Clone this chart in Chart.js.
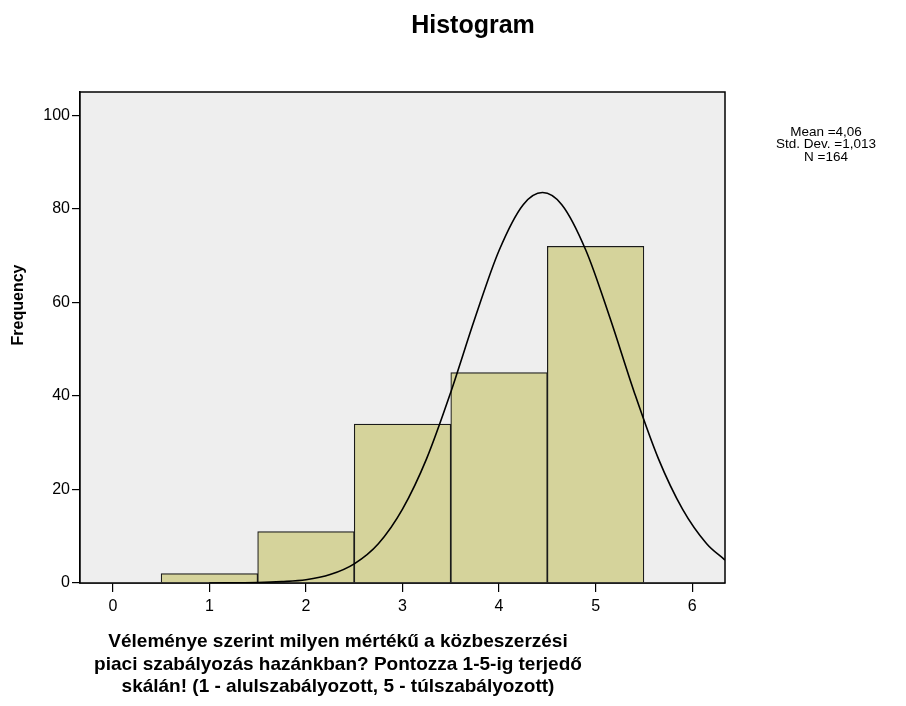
<!DOCTYPE html>
<html><head><meta charset="utf-8">
<script src="https://cdn.jsdelivr.net/npm/chart.js@4.4.1/dist/chart.umd.min.js"></script>
<style>html,body{margin:0;padding:0;background:#fff}#wrap{width:906px;height:706px}</style>
</head><body><div id="wrap"><canvas id="c" width="906" height="706"></canvas></div>
<script>
// ---- data ----
const binCenters = [1, 2, 3, 4, 5];
const frequencies = [2, 11, 34, 45, 72];
const curveX = [1.0, 1.5, 1.75, 2.0, 2.25, 2.5, 2.75, 3.0, 3.25, 3.5, 3.75, 4.0, 4.25, 4.45, 4.65, 4.9, 5.15, 5.4, 5.65, 5.9, 6.15, 6.34];
const curveY = [0.0, 0.1, 0.3, 0.7, 1.8, 4.1, 8.4, 15.8, 26.6, 40.8, 56.6, 71.1, 80.9, 83.5, 80.9, 71.1, 56.6, 40.8, 26.6, 15.8, 8.4, 4.9];
const xTickValues = [0, 1, 2, 3, 4, 5, 6];
const yTickValues = [0, 20, 40, 60, 80, 100];
const chartTitle = 'Histogram';
const xAxisTitle = ['Véleménye szerint milyen mértékű a közbeszerzési', 'piaci szabályozás hazánkban? Pontozza 1-5-ig terjedő', 'skálán! (1 - alulszabályozott, 5 - túlszabályozott)'];
const yAxisTitle = 'Frequency';
const statsLines = ['Mean =4,06', 'Std. Dev. =1,013', 'N =164'];

const FONT = '"Liberation Sans", Arial, sans-serif';

const barData = binCenters.map((x, i) => ({x: x, y: frequencies[i]}));
const curveData = curveX.map((x, i) => ({x: x, y: curveY[i]}));

const decor = {
  id: 'decor',
  beforeDatasetsDraw(chart) {
    const {ctx, chartArea: a} = chart;
    ctx.save();
    ctx.fillStyle = '#eeeeee';
    ctx.fillRect(a.left, a.top, a.right - a.left, a.bottom - a.top);
    ctx.restore();
  },
  afterDraw(chart) {
    const {ctx, chartArea: a} = chart;
    ctx.save();
    ctx.strokeStyle = '#000';
    ctx.lineWidth = 1.5;
    ctx.strokeRect(a.left, a.top, a.right - a.left, a.bottom - a.top);
    ctx.fillStyle = '#000';
    ctx.textBaseline = 'middle';
    ctx.textAlign = 'center';
    ctx.font = 'bold 25px ' + FONT;
    ctx.fillText(chartTitle, 473, 26);
    ctx.font = 'bold 19px ' + FONT;
    xAxisTitle.forEach((t, i) => ctx.fillText(t, 338, 642 + i * 22.5));
    ctx.save();
    ctx.translate(19, 305);
    ctx.rotate(-Math.PI / 2);
    ctx.font = 'bold 16px ' + FONT;
    ctx.fillText(yAxisTitle, 0, 0);
    ctx.restore();
    ctx.font = '13.5px ' + FONT;
    statsLines.forEach((t, i) => ctx.fillText(t, 826, 132 + i * 12.5));
    ctx.restore();
  }
};

new Chart(document.getElementById('c'), {
  type: 'bar',
  data: {
    datasets: [
      {
        type: 'line', data: curveData, borderColor: '#000', borderWidth: 1.6,
        pointRadius: 0, fill: false, cubicInterpolationMode: 'monotone', order: 0
      },
      {
        type: 'bar', data: barData, backgroundColor: '#d5d39b', borderColor: '#1a1a1a',
        borderWidth: 1.2, barPercentage: 1, categoryPercentage: 1, order: 1
      }
    ]
  },
  options: {
    responsive: false, devicePixelRatio: 1, animation: false,
    layout: {padding: {top: 92, right: 181, left: 0, bottom: 0}},
    plugins: {legend: {display: false}, tooltip: {enabled: false}, title: {display: false}},
    scales: {
      x: {
        type: 'linear', min: -0.34, max: 6.34, offset: false,
        afterBuildTicks: s => { s.ticks = xTickValues.map(v => ({value: v})); },
        afterFit: s => { s.height = 123; },
        ticks: {font: {family: FONT, size: 16}, color: '#000', padding: 5, maxRotation: 0, autoSkip: false},
        grid: {display: true, offset: false, drawOnChartArea: false, drawTicks: true, tickLength: 9, color: '#000', lineWidth: 1.2},
        border: {display: true, color: '#000', width: 1.5}
      },
      y: {
        type: 'linear', min: 0, max: 105,
        afterBuildTicks: s => { s.ticks = yTickValues.map(v => ({value: v})); },
        afterFit: s => { s.width = 80; },
        ticks: {font: {family: FONT, size: 16}, color: '#000', padding: 2, autoSkip: false},
        grid: {display: true, offset: false, drawOnChartArea: false, drawTicks: true, tickLength: 8, color: '#000', lineWidth: 1.2},
        border: {display: true, color: '#000', width: 1.5}
      }
    }
  },
  plugins: [decor]
});
</script>
</body></html>
